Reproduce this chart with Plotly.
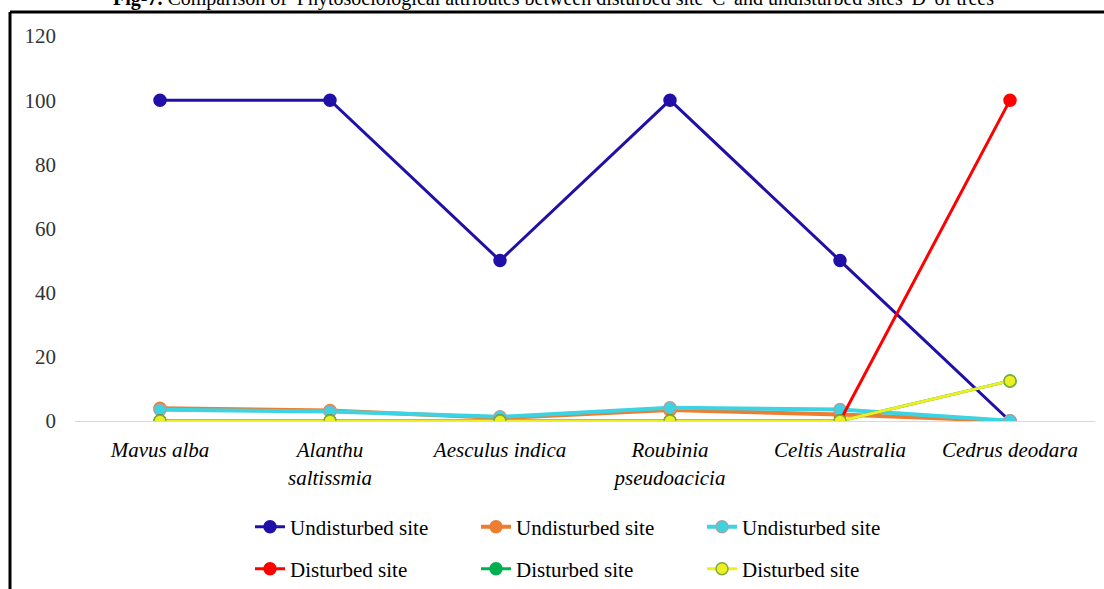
import plotly.graph_objects as go

# Tree species along the x axis (line breaks as the labels wrap)
species = ["Mavus alba", "Alanthu<br>saltissmia", "Aesculus indica",
           "Roubinia<br>pseudoacicia", "Celtis Australia", "Cedrus deodara"]

# Phytosociological attribute values per site
undisturbed_a = [100, 100, 50, 100, 50, 0]
undisturbed_b = [4.0, 3.3, 0.9, 3.4, 2.0, 0]
undisturbed_c = [3.5, 3.0, 1.3, 4.1, 3.6, 0.1]
disturbed_a = [0, 0, 0, 0, 0, 100]
disturbed_b = [0, 0, 0, 0, 0, 12.5]
disturbed_c = [0, 0, 0, 0, 0, 12.5]

y_ticks = [0, 20, 40, 60, 80, 100, 120]

SERIF = "Liberation Serif, Times New Roman, serif"

series = [
    ("Undisturbed site", undisturbed_a, "#2010A8", "#2010A8", 3, "legend"),
    ("Undisturbed site", undisturbed_b, "#ED7D31", "#ED7D31", 4, "legend"),
    ("Undisturbed site", undisturbed_c, "#3CD3E2", "#A5A5A5", 4, "legend"),
    ("Disturbed site", disturbed_a, "#FF0000", "#FF0000", 3, "legend2"),
    ("Disturbed site", disturbed_b, "#00B050", "#00B050", 3, "legend2"),
    ("Disturbed site", disturbed_c, "#EEEE22", "#7DAE3A", 3, "legend2"),
]

fig = go.Figure()
for name, vals, color, edge, width, leg in series:
    fig.add_trace(go.Scatter(
        x=species, y=vals, name=name, mode="lines+markers",
        line=dict(color=color, width=width),
        marker=dict(size=12, color=color, line=dict(color=edge, width=1.5)),
        legend=leg,
    ))

legend_style = dict(
    orientation="h", xanchor="left", yanchor="middle",
    font=dict(family=SERIF, size=21, color="#000000"),
    entrywidthmode="pixels", entrywidth=181,
    bgcolor="rgba(0,0,0,0)", tracegroupgap=0,
)

fig.update_layout(
    width=1104, height=589,
    margin=dict(l=75, r=9, t=36, b=168, autoexpand=False),
    paper_bgcolor="white", plot_bgcolor="white",
    showlegend=True,
    legend=dict(x=(250 - 75) / 1020, y=(421 - 527) / 385, **legend_style),
    legend2=dict(x=(250 - 75) / 1020, y=(421 - 569) / 385, **legend_style),
    xaxis=dict(
        range=[-0.5, 5.5], showgrid=False, zeroline=False,
        showline=True, linecolor="#D9D9D9", linewidth=1,
        tickfont=dict(family=SERIF, size=21, color="#000000", style="italic"),
        ticks="", ticklabelstandoff=10,
    ),
    yaxis=dict(
        range=[0, 120], tickvals=y_ticks, showgrid=False, zeroline=False,
        showline=False, ticks="",
        tickfont=dict(family=SERIF, size=21, color="#333333"),
        ticklabelstandoff=18,
    ),
    shapes=[
        # frame around the figure panel
        dict(type="line", xref="paper", yref="paper",
             x0=(10 - 75) / 1020, x1=(1110 - 75) / 1020,
             y0=(421 - 12) / 385, y1=(421 - 12) / 385,
             line=dict(color="#000000", width=3)),
        dict(type="line", xref="paper", yref="paper",
             x0=(10 - 75) / 1020, x1=(10 - 75) / 1020,
             y0=(421 - 12) / 385, y1=(421 - 600) / 385,
             line=dict(color="#000000", width=3)),
    ],
    annotations=[
        dict(text="<b>Fig-7.</b> Comparison of  Phytosociological attributes between "
                  "disturbed site 'C' and undisturbed sites 'D' of trees",
             xref="paper", yref="paper", x=(553 - 75) / 1020, y=(421 - 12) / 385,
             xanchor="center", yanchor="bottom", showarrow=False,
             font=dict(family=SERIF, size=20, color="#000000")),
    ],
)

fig.write_html("out.html")
